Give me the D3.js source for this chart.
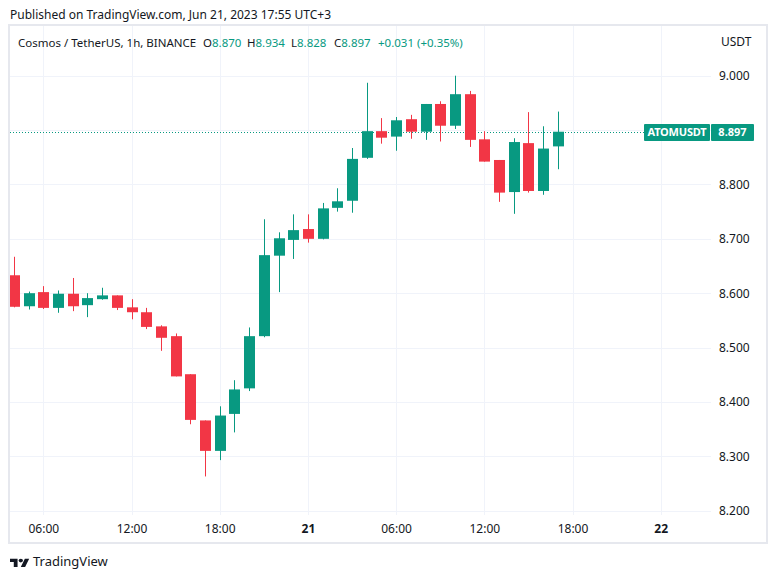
<!DOCTYPE html>
<html>
<head>
<meta charset="utf-8">
<script src="https://cdn.jsdelivr.net/npm/d3@7"></script>
<style>
  body { margin: 0; background: #fff; }
  svg text { font-family: "Noto Sans", "Liberation Sans", sans-serif; }
</style>
</head>
<body>
<div id="chart"></div>
<script>
// ATOM/USDT 1h candles, Jun 20 04:00 -> Jun 21 17:00
var firstCandle = new Date(Date.UTC(2023, 5, 20, 4));
var lastCandle = new Date(Date.UTC(2023, 5, 21, 17));
var opens = [8.633, 8.576, 8.602, 8.573, 8.599, 8.578, 8.589, 8.596, 8.574, 8.565,
    8.539, 8.521, 8.451, 8.366, 8.310, 8.378, 8.425, 8.521, 8.669, 8.698,
    8.718, 8.700, 8.757, 8.770, 8.849, 8.898, 8.888, 8.920, 8.897, 8.948,
    8.908, 8.966, 8.883, 8.845, 8.786, 8.876, 8.788, 8.870];
var highs = [8.667, 8.603, 8.613, 8.605, 8.628, 8.600, 8.610, 8.596, 8.589, 8.573,
    8.541, 8.526, 8.451, 8.366, 8.392, 8.440, 8.537, 8.736, 8.712, 8.745,
    8.745, 8.766, 8.793, 8.867, 8.987, 8.922, 8.924, 8.928, 8.948, 8.953,
    9.000, 8.972, 8.898, 8.845, 8.885, 8.933, 8.907, 8.934];
var lows = [8.574, 8.570, 8.571, 8.564, 8.567, 8.556, 8.588, 8.569, 8.552, 8.534,
    8.494, 8.447, 8.359, 8.263, 8.293, 8.344, 8.420, 8.519, 8.602, 8.663,
    8.693, 8.699, 8.750, 8.748, 8.847, 8.875, 8.862, 8.884, 8.882, 8.879,
    8.902, 8.869, 8.842, 8.768, 8.746, 8.785, 8.781, 8.828];
var closes = [8.575, 8.600, 8.573, 8.599, 8.576, 8.591, 8.596, 8.573, 8.565, 8.538,
    8.518, 8.447, 8.367, 8.310, 8.375, 8.423, 8.521, 8.670, 8.701, 8.716,
    8.700, 8.756, 8.769, 8.847, 8.898, 8.886, 8.918, 8.897, 8.948, 8.908,
    8.966, 8.882, 8.842, 8.785, 8.878, 8.788, 8.866, 8.897];
var priceTicks = [8.2, 8.3, 8.4, 8.5, 8.6, 8.7, 8.8, 8.9, 9.0];
var symbol = 'ATOMUSDT';
var titleText = 'Cosmos / TetherUS, 1h, BINANCE';
var publishedText = 'Published on TradingView.com, Jun 21, 2023 17:55 UTC+3';

var width = 777,
    height = 579;
var up = '#089981',
    down = '#f23645',
    gridColor = '#f0f3fa',
    textColor = '#131722';

var times = d3.utcHour.range(firstCandle, d3.utcHour.offset(lastCandle, 1));
var candles = times.map(function(t, i) {
    return { t: t, o: opens[i], h: highs[i], l: lows[i], c: closes[i] };
});
var last = candles[candles.length - 1];

// pane box
var pane = { left: 9, top: 25, right: 711, bottom: 515 };

var x = d3.scaleUtc()
    .domain([new Date(Date.UTC(2023, 5, 20, 6)), new Date(Date.UTC(2023, 5, 22, 0))])
    .range([43.3, 660.7]);
var y = d3.scaleLinear()
    .domain([8.2, 9.0])
    .range([510.7, 75.7]);

var svg = d3.select('#chart').append('svg')
    .attr('width', width)
    .attr('height', height);

svg.append('text')
    .attr('x', 10).attr('y', 19)
    .attr('font-size', 12).attr('fill', textColor)
    .text(publishedText);

// frame
svg.append('rect')
    .attr('x', 9).attr('y', 25)
    .attr('width', 758).attr('height', 518)
    .attr('fill', 'none')
    .attr('stroke', '#e6e8ee')
    .attr('stroke-width', 2);

svg.append('clipPath').attr('id', 'pane_clip')
    .append('rect')
    .attr('x', pane.left + 1).attr('y', pane.top + 1)
    .attr('width', pane.right - pane.left - 1)
    .attr('height', pane.bottom - pane.top - 1);

var timeTicks = d3.utcHour.every(6).range(new Date(Date.UTC(2023, 5, 20, 6)), new Date(Date.UTC(2023, 5, 22, 1)));

// grid
var grid = svg.append('g').attr('class', 'grid');
grid.selectAll('line.v')
    .data(timeTicks)
    .enter().append('line')
    .attr('class', 'v')
    .attr('x1', function(d) { return Math.round(x(d)) + 0.5; })
    .attr('x2', function(d) { return Math.round(x(d)) + 0.5; })
    .attr('y1', pane.top + 1).attr('y2', pane.bottom)
    .attr('stroke', gridColor);
grid.selectAll('line.h')
    .data(priceTicks)
    .enter().append('line')
    .attr('class', 'h')
    .attr('x1', pane.left + 1).attr('x2', pane.right)
    .attr('y1', function(d) { return Math.round(y(d)) + 0.5; })
    .attr('y2', function(d) { return Math.round(y(d)) + 0.5; })
    .attr('stroke', gridColor);

// axes
var xAxis = d3.axisBottom(x)
    .tickValues(timeTicks)
    .tickSize(0)
    .tickPadding(0)
    .tickFormat(function(d) {
        return d.getUTCHours() === 0 ? d3.utcFormat('%-d')(d) : d3.utcFormat('%H:%M')(d);
    });
var gx = svg.append('g')
    .attr('transform', 'translate(0,' + 524 + ')')
    .call(xAxis);
gx.select('.domain').remove();
gx.selectAll('text')
    .attr('font-size', 12)
    .attr('fill', textColor)
    .attr('font-family', '"Noto Sans", sans-serif')
    .attr('font-weight', function(d) { return d.getUTCHours() === 0 ? 'bold' : 'normal'; });

// the last price label hides the tick label behind it
var labelTicks = priceTicks.filter(function(p) {
    return Math.abs(y(p) - y(last.c)) > 12;
});
var yAxis = d3.axisRight(y)
    .tickValues(labelTicks)
    .tickSize(0)
    .tickPadding(0)
    .tickFormat(d3.format('.3f'));
var gy = svg.append('g')
    .attr('transform', 'translate(719,0)')
    .call(yAxis);
gy.select('.domain').remove();
gy.selectAll('text')
    .attr('font-size', 12)
    .attr('fill', textColor)
    .attr('font-family', '"Noto Sans", sans-serif');

svg.append('text')
    .attr('x', 721).attr('y', 46)
    .attr('font-size', 12).attr('fill', textColor)
    .text('USDT');

// candles
var plot = svg.append('g').attr('clip-path', 'url(#pane_clip)');

// last price line
plot.append('line')
    .attr('x1', pane.left + 1).attr('x2', 644)
    .attr('y1', Math.round(y(last.c)) + 0.5)
    .attr('y2', Math.round(y(last.c)) + 0.5)
    .attr('stroke', up)
    .attr('stroke-dasharray', '1,2');

var bars = plot.selectAll('g.candle')
    .data(candles)
    .enter().append('g')
    .attr('class', 'candle');
bars.append('line')
    .attr('x1', function(d) { return Math.round(x(d.t)) + 0.5; })
    .attr('x2', function(d) { return Math.round(x(d.t)) + 0.5; })
    .attr('y1', function(d) { return y(d.h); })
    .attr('y2', function(d) { return y(d.l); })
    .attr('stroke', function(d) { return d.c >= d.o ? up : down; });
bars.append('rect')
    .attr('x', function(d) { return Math.round(x(d.t)) - 5; })
    .attr('width', 11)
    .attr('y', function(d) { return y(Math.max(d.o, d.c)); })
    .attr('height', function(d) { return Math.max(1, Math.abs(y(d.o) - y(d.c))); })
    .attr('fill', function(d) { return d.c >= d.o ? up : down; });

// price label
var ly = Math.round(y(last.c));
svg.append('rect')
    .attr('x', 644).attr('y', ly - 8)
    .attr('width', 66).attr('height', 17)
    .attr('rx', 1)
    .attr('fill', up);
svg.append('rect')
    .attr('x', 711).attr('y', ly - 8)
    .attr('width', 43).attr('height', 17)
    .attr('rx', 1)
    .attr('fill', up);
svg.append('text')
    .attr('x', 677).attr('y', ly + 4)
    .attr('text-anchor', 'middle')
    .attr('font-size', 11).attr('font-weight', 'bold')
    .attr('letter-spacing', -0.2)
    .attr('fill', '#fff')
    .text(symbol);
svg.append('text')
    .attr('x', 732.5).attr('y', ly + 4)
    .attr('text-anchor', 'middle')
    .attr('font-size', 11).attr('font-weight', 'bold')
    .attr('fill', '#fff')
    .text(d3.format('.3f')(last.c));

// legend line
var prevClose = closes[closes.length - 2];
var change = last.c - prevClose;
var legendY = 47;
svg.append('text')
    .attr('x', 18).attr('y', legendY)
    .attr('font-size', 11.5).attr('fill', textColor)
    .text(titleText);
var ohlc = [['O', last.o, 203], ['H', last.h, 247], ['L', last.l, 291], ['C', last.c, 334]];
ohlc.forEach(function(p) {
    var t = svg.append('text')
        .attr('x', p[2]).attr('y', legendY)
        .attr('font-size', 11.5).attr('fill', textColor);
    t.append('tspan').text(p[0]);
    t.append('tspan').attr('fill', up).text(d3.format('.3f')(p[1]));
});
svg.append('text')
    .attr('x', 378).attr('y', legendY)
    .attr('font-size', 11.5).attr('fill', up)
    .text(d3.format('+.3f')(change) + ' (' + d3.format('+.2%')(change / prevClose) + ')');

// tradingview logo
var logo = svg.append('g').attr('transform', 'translate(10,557) scale(0.54,0.45)');
logo.append('path')
    .attr('d', 'M14 22H7V11H0V4h14v18zM28 22h-8l7.5-18h8L28 22z')
    .attr('fill', textColor);
logo.append('circle')
    .attr('cx', 20).attr('cy', 8).attr('r', 4)
    .attr('fill', textColor);
svg.append('text')
    .attr('x', 33).attr('y', 566)
    .attr('font-size', 13)
    .attr('fill', textColor)
    .text('TradingView');
</script>
</body>
</html>
